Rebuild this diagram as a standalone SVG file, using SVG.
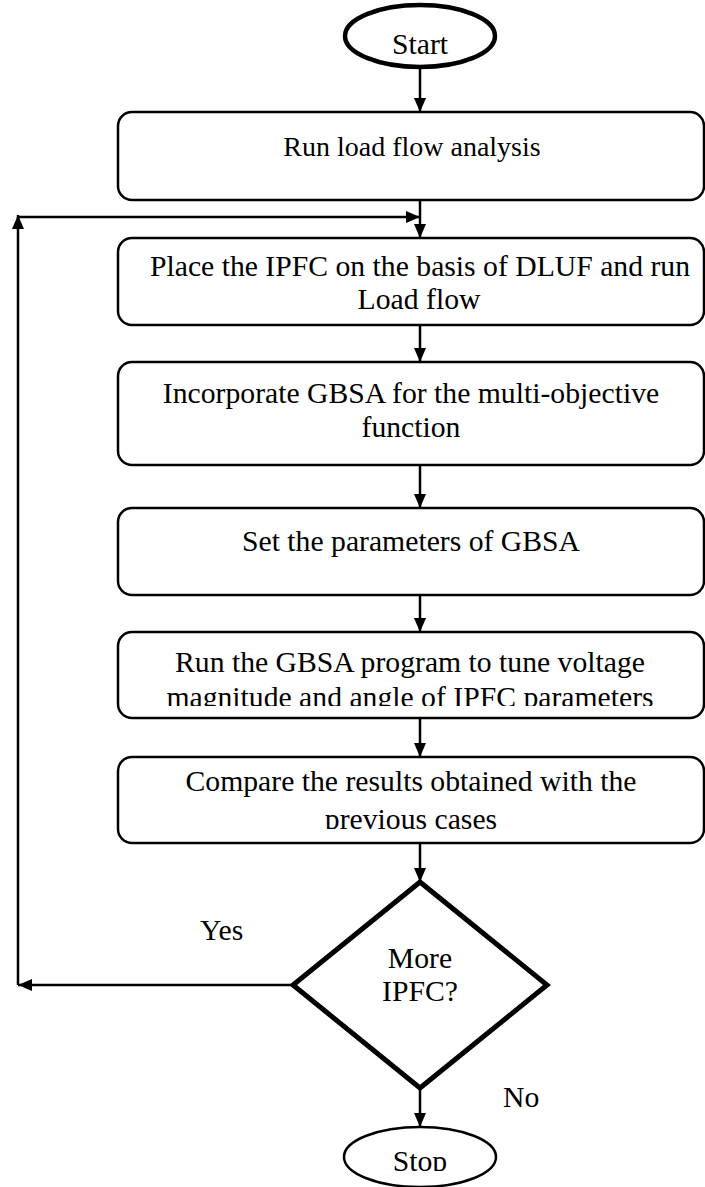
<svg xmlns="http://www.w3.org/2000/svg" width="705" height="1187" viewBox="0 0 705 1187">
<style>
text{font-family:"Liberation Serif","Times New Roman",serif;font-size:29.7px;fill:#000;text-anchor:middle}
.box{fill:#fff;stroke:#000;stroke-width:2.5}
.conn{fill:none;stroke:#000;stroke-width:2.5}
.lbl{text-anchor:start}
</style>
<defs>
<marker id="ah" viewBox="0 0 14 12" refX="14" refY="6" markerWidth="14" markerHeight="12" markerUnits="userSpaceOnUse" orient="auto">
<path d="M0,0 L14,6 L0,12 Z" fill="#000"/>
</marker>
<clipPath id="c5"><rect x="118" y="632" width="586" height="74"/></clipPath>
<clipPath id="c6"><rect x="118" y="757" width="586" height="72"/></clipPath>
<clipPath id="cs"><rect x="0" y="1120" width="705" height="51"/></clipPath>
</defs>
<g id="connectors">
<line class="conn" x1="420" y1="68" x2="420" y2="112" marker-end="url(#ah)"/>
<line class="conn" x1="420" y1="200" x2="420" y2="238" marker-end="url(#ah)"/>
<line class="conn" x1="18" y1="217" x2="420" y2="217" marker-end="url(#ah)"/>
<line class="conn" x1="420" y1="325" x2="420" y2="362" marker-end="url(#ah)"/>
<line class="conn" x1="420" y1="465" x2="420" y2="508" marker-end="url(#ah)"/>
<line class="conn" x1="420" y1="595" x2="420" y2="632" marker-end="url(#ah)"/>
<line class="conn" x1="420" y1="718" x2="420" y2="757" marker-end="url(#ah)"/>
<line class="conn" x1="420" y1="843" x2="420" y2="882" marker-end="url(#ah)"/>
<line class="conn" x1="293" y1="985" x2="18" y2="985" marker-end="url(#ah)"/>
<line class="conn" x1="18" y1="985" x2="18" y2="215" marker-end="url(#ah)"/>
<line class="conn" x1="420" y1="1088" x2="420" y2="1127" marker-end="url(#ah)"/>
<text class="lbl" x="200" y="940">Yes</text>
<text class="lbl" x="503" y="1107">No</text>
</g>
<g id="start">
<ellipse cx="420" cy="36" rx="75" ry="31" fill="#fff" stroke="#000" stroke-width="4.5"/>
<text x="420" y="54">Start</text>
</g>
<g id="box1">
<rect class="box" x="118" y="112" width="586" height="88" rx="14"/>
<text x="412" y="156" style="font-size:28px">Run load flow analysis</text>
</g>
<g id="box2">
<rect class="box" x="118" y="238" width="586" height="87" rx="14"/>
<text x="420" y="276">Place the IPFC on the basis of DLUF and run</text>
<text x="419" y="309">Load flow</text>
</g>
<g id="box3">
<rect class="box" x="118" y="362" width="586" height="103" rx="14"/>
<text x="411" y="403">Incorporate GBSA for the multi-objective</text>
<text x="411" y="437">function</text>
</g>
<g id="box4">
<rect class="box" x="118" y="508" width="586" height="87" rx="14"/>
<text x="411" y="551">Set the parameters of GBSA</text>
</g>
<g id="box5">
<rect class="box" x="118" y="632" width="586" height="86" rx="14"/>
<g clip-path="url(#c5)">
<text x="410" y="672">Run the GBSA program to tune voltage</text>
<text x="410" y="707">magnitude and angle of IPFC parameters</text>
</g>
</g>
<g id="box6">
<rect class="box" x="118" y="757" width="586" height="86" rx="14"/>
<g clip-path="url(#c6)">
<text x="411" y="791">Compare the results obtained with the</text>
<text x="411" y="829">previous cases</text>
</g>
</g>
<g id="decision">
<polygon points="420,882 547,985 420,1088 293,985" fill="#fff" stroke="#000" stroke-width="5" stroke-linejoin="miter"/>
<text x="420" y="968">More</text>
<text x="420" y="1001">IPFC?</text>
</g>
<g id="stop">
<ellipse cx="420" cy="1157" rx="76" ry="30" fill="#fff" stroke="#000" stroke-width="2.5"/>
<g clip-path="url(#cs)"><text x="420" y="1171">Stop</text></g>
</g>
</svg>
